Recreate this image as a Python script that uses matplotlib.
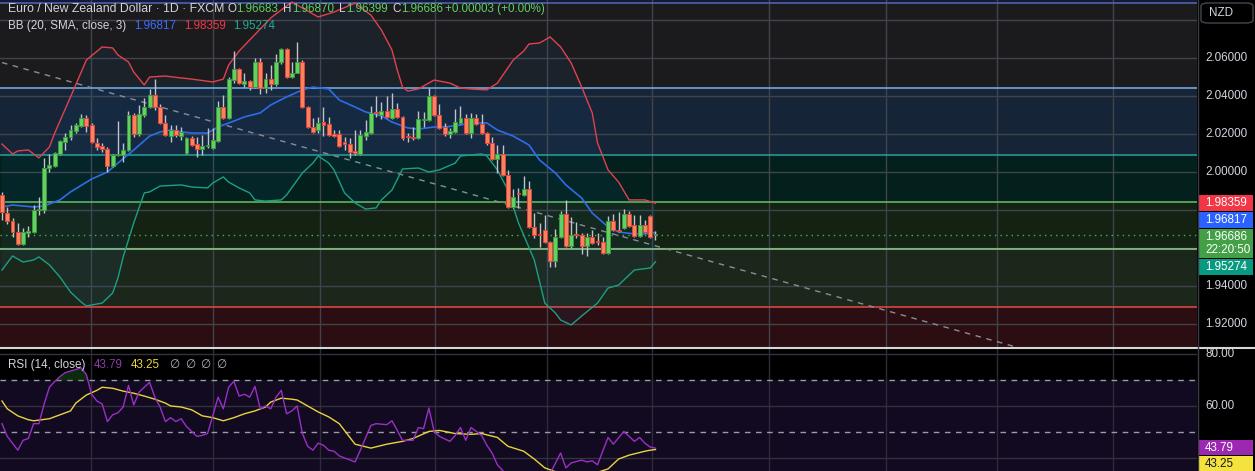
import matplotlib
matplotlib.use('Agg')
import matplotlib.pyplot as plt
import numpy as np
from matplotlib.patches import Rectangle, FancyBboxPatch
from matplotlib.lines import Line2D

plt.rcParams['font.family'] = ['Liberation Sans', 'DejaVu Sans']

# ---------------- data ----------------
opens = [
    1.9879, 1.9784, 1.9742, 1.9684, 1.9621, 1.9679, 1.9684, 1.9800, 1.9800, 2.0021,
    2.0032, 2.0095, 2.0158, 2.0184, 2.0216, 2.0242, 2.0284, 2.0247, 2.0153, 2.0137,
    2.0121, 2.0032, 2.0089, 2.0089, 2.0116, 2.0300, 2.0200, 2.0300, 2.0342, 2.0405,
    2.0342, 2.0258, 2.0189, 2.0221, 2.0189, 2.0100, 2.0179, 2.0147, 2.0121, 2.0137,
    2.0126, 2.0163, 2.0342, 2.0284, 2.0484, 2.0542, 2.0463, 2.0479, 2.0447, 2.0579,
    2.0442, 2.0489, 2.0463, 2.0579, 2.0647, 2.0500, 2.0521, 2.0579, 2.0342, 2.0237,
    2.0221, 2.0263, 2.0253, 2.0195, 2.0200, 2.0153, 2.0147, 2.0111, 2.0095, 2.0189,
    2.0205, 2.0311, 2.0300, 2.0321, 2.0284, 2.0332, 2.0290, 2.0184, 2.0179, 2.0179,
    2.0274, 2.0274, 2.0400, 2.0300, 2.0237, 2.0200, 2.0211, 2.0258, 2.0284, 2.0205,
    2.0284, 2.0253, 2.0205, 2.0153, 2.0068, 2.0095, 1.9984, 1.9816, 1.9884, 1.9879,
    1.9910, 1.9711, 1.9668, 1.9695, 1.9632, 1.9532, 1.9658, 1.9779, 1.9611, 1.9668,
    1.9668, 1.9611, 1.9658, 1.9632, 1.9632, 1.9574, 1.9742, 1.9689, 1.9705, 1.9779,
    1.9721, 1.9663, 1.9721, 1.9768, 1.96683]
highs = [
    1.9895, 1.9816, 1.9758, 1.9732, 1.9705, 1.9716, 1.9826, 1.9868, 2.0074, 2.0095,
    2.0105, 2.0168, 2.0205, 2.0247, 2.0258, 2.0305, 2.0300, 2.0258, 2.0179, 2.0153,
    2.0132, 2.0095, 2.0268, 2.0153, 2.0321, 2.0311, 2.0353, 2.0389, 2.0437, 2.0489,
    2.0358, 2.0300, 2.0247, 2.0247, 2.0237, 2.0184, 2.0189, 2.0184, 2.0195, 2.0232,
    2.0232, 2.0374, 2.0405, 2.0500, 2.0637, 2.0547, 2.0521, 2.0484, 2.0600, 2.0600,
    2.0521, 2.0563, 2.0621, 2.0653, 2.0653, 2.0579, 2.0684, 2.0589, 2.0347, 2.0284,
    2.0290, 2.0342, 2.0290, 2.0221, 2.0221, 2.0184, 2.0179, 2.0221, 2.0221, 2.0274,
    2.0347, 2.0400, 2.0368, 2.0400, 2.0416, 2.0363, 2.0295, 2.0205, 2.0237, 2.0321,
    2.0316, 2.0442, 2.0405, 2.0358, 2.0258, 2.0232, 2.0332, 2.0347, 2.0305, 2.0311,
    2.0305, 2.0305, 2.0211, 2.0184, 2.0142, 2.0142, 2.0011, 1.9910, 1.9916, 1.9979,
    1.9953, 1.9784, 1.9732, 1.9774, 1.9637, 1.9700, 1.9795, 1.9853, 1.9763, 1.9737,
    1.9679, 1.9679, 1.9695, 1.9679, 1.9658, 1.9768, 1.9779, 1.9790, 1.9805, 1.9795,
    1.9774, 1.9774, 1.9747, 1.9774, 1.96870]
lows = [
    1.9747, 1.9726, 1.9658, 1.9616, 1.9616, 1.9658, 1.9679, 1.9774, 1.9784, 2.0000,
    2.0026, 2.0089, 2.0116, 2.0168, 2.0205, 2.0237, 2.0211, 2.0153, 2.0116, 2.0105,
    2.0000, 2.0026, 2.0084, 2.0053, 2.0111, 2.0184, 2.0189, 2.0290, 2.0337, 2.0326,
    2.0253, 2.0189, 2.0158, 2.0184, 2.0168, 2.0095, 2.0137, 2.0079, 2.0089, 2.0126,
    2.0121, 2.0158, 2.0279, 2.0279, 2.0468, 2.0463, 2.0447, 2.0431, 2.0442, 2.0411,
    2.0416, 2.0431, 2.0453, 2.0568, 2.0495, 2.0495, 2.0521, 2.0337, 2.0232, 2.0205,
    2.0205, 2.0189, 2.0189, 2.0184, 2.0132, 2.0116, 2.0074, 2.0089, 2.0089, 2.0168,
    2.0200, 2.0290, 2.0279, 2.0284, 2.0279, 2.0284, 2.0168, 2.0158, 2.0168, 2.0174,
    2.0237, 2.0268, 2.0295, 2.0226, 2.0189, 2.0179, 2.0205, 2.0253, 2.0200, 2.0179,
    2.0247, 2.0200, 2.0142, 2.0063, 1.9995, 1.9979, 1.9811, 1.9811, 1.9811, 1.9874,
    1.9705, 1.9653, 1.9605, 1.9626, 1.9500, 1.9500, 1.9653, 1.9605, 1.9600, 1.9653,
    1.9568, 1.9558, 1.9621, 1.9616, 1.9568, 1.9568, 1.9689, 1.9684, 1.9700, 1.9711,
    1.9658, 1.9658, 1.9679, 1.9653, 1.96399]
closes = [
    1.9790, 1.9742, 1.9684, 1.9621, 1.9684, 1.9689, 1.9800, 1.9805, 2.0021, 2.0037,
    2.0100, 2.0163, 2.0184, 2.0221, 2.0247, 2.0284, 2.0242, 2.0158, 2.0132, 2.0121,
    2.0032, 2.0089, 2.0095, 2.0116, 2.0300, 2.0200, 2.0305, 2.0342, 2.0405, 2.0342,
    2.0258, 2.0195, 2.0221, 2.0195, 2.0211, 2.0179, 2.0142, 2.0121, 2.0137, 2.0140,
    2.0168, 2.0342, 2.0284, 2.0489, 2.0542, 2.0468, 2.0479, 2.0447, 2.0579, 2.0442,
    2.0489, 2.0463, 2.0579, 2.0647, 2.0500, 2.0521, 2.0579, 2.0342, 2.0237, 2.0211,
    2.0258, 2.0247, 2.0195, 2.0192, 2.0137, 2.0150, 2.0105, 2.0100, 2.0195, 2.0211,
    2.0311, 2.0308, 2.0321, 2.0290, 2.0332, 2.0290, 2.0179, 2.0182, 2.0177, 2.0279,
    2.0276, 2.0400, 2.0300, 2.0232, 2.0200, 2.0216, 2.0263, 2.0284, 2.0205, 2.0284,
    2.0253, 2.0205, 2.0153, 2.0068, 2.0095, 1.9984, 1.9816, 1.9868, 1.9882, 1.9910,
    1.9711, 1.9668, 1.9666, 1.9632, 1.9532, 1.9658, 1.9779, 1.9611, 1.9668, 1.9666,
    1.9611, 1.9658, 1.9626, 1.9630, 1.9574, 1.9742, 1.9695, 1.9687, 1.9779, 1.9716,
    1.9663, 1.9721, 1.9684, 1.9658, 1.96686]

bb_upper_idx = [0, 2, 3, 5, 7, 9, 10, 13, 16, 19, 21, 22, 24, 25, 27, 28, 31, 34, 36, 40,
                42, 43, 45, 47, 51, 55, 57, 60, 63, 67, 70, 72, 74, 75, 76, 77, 79, 82, 85, 87,
                89, 92, 94, 97, 99, 100, 102, 104, 106, 108, 110, 112, 113, 115, 117, 119, 122, 124]
bb_upper = [2.0147, 2.0095, 2.0111, 2.0116, 2.0074, 2.0132, 2.0205, 2.0395, 2.0589, 2.0658,
            2.0653, 2.0616, 2.0579, 2.0526, 2.0458, 2.0500, 2.0505, 2.0495, 2.0489, 2.0474,
            2.0489, 2.0563, 2.0637, 2.0695, 2.0811, 2.0895, 2.0863, 2.0816, 2.0842, 2.0889,
            2.0826, 2.0747, 2.0642, 2.0537, 2.0447, 2.0426, 2.0437, 2.0484, 2.0468, 2.0442,
            2.0437, 2.0432, 2.0468, 2.0589, 2.0637, 2.0674, 2.0679, 2.0711, 2.0658, 2.0574,
            2.0447, 2.0311, 2.0153, 2.0011, 1.9947, 1.9853, 1.9853, 1.98359]
bb_mid_idx = [0, 2, 6, 8, 11, 13, 17, 20, 22, 25, 28, 30, 32, 34, 36, 39, 41, 44, 46, 49,
              51, 54, 57, 59, 62, 64, 67, 69, 72, 74, 77, 79, 82, 84, 87, 89, 92, 94, 97, 100,
              102, 105, 107, 110, 112, 115, 117, 120, 122, 124]
bb_mid = [1.9816, 1.9826, 1.9816, 1.9821, 1.9853, 1.9895, 1.9963, 2.0000, 2.0047, 2.0116,
          2.0189, 2.0211, 2.0221, 2.0211, 2.0205, 2.0205, 2.0237, 2.0268, 2.0290, 2.0311,
          2.0353, 2.0395, 2.0432, 2.0447, 2.0437, 2.0379, 2.0342, 2.0316, 2.0295, 2.0263,
          2.0232, 2.0226, 2.0237, 2.0237, 2.0247, 2.0258, 2.0258, 2.0221, 2.0189, 2.0142,
          2.0063, 1.9995, 1.9932, 1.9863, 1.9784, 1.9711, 1.9684, 1.9674, 1.9674, 1.96817]
bb_low_idx = [0, 2, 4, 6, 7, 9, 11, 13, 15, 16, 19, 21, 22, 23, 25, 27, 28, 30, 34, 36,
              39, 40, 42, 43, 45, 47, 48, 50, 53, 54, 57, 59, 60, 62, 63, 65, 67, 69, 71, 72,
              74, 76, 79, 81, 83, 86, 87, 91, 92, 94, 96, 98, 101, 103, 105, 106, 108, 110, 113, 115,
              117, 120, 123, 124]
bb_low = [1.9484, 1.9558, 1.9526, 1.9537, 1.9553, 1.9511, 1.9447, 1.9368, 1.9316, 1.9295,
          1.9310, 1.9363, 1.9442, 1.9553, 1.9732, 1.9890, 1.9895, 1.9926, 1.9932, 1.9921,
          1.9916, 1.9942, 1.9974, 1.9947, 1.9916, 1.9890, 1.9853, 1.9847, 1.9853, 1.9879,
          1.9995, 2.0047, 2.0084, 2.0047, 2.0011, 1.9890, 1.9837, 1.9805, 1.9811, 1.9853,
          1.9905, 2.0016, 2.0021, 2.0000, 2.0011, 2.0047, 2.0084, 2.0095, 2.0084, 2.0011,
          1.9905, 1.9732, 1.9537, 1.9310, 1.9258, 1.9221, 1.9195, 1.9242, 1.9310, 1.9389,
          1.9405, 1.9484, 1.9495, 1.95274]

rsi_idx = [0, 1, 3, 4, 5, 6, 7, 8, 9, 10, 11, 12, 14, 15, 16, 17, 18, 19, 20, 21,
           22, 23, 24, 25, 26, 27, 28, 29, 30, 31, 32, 33, 34, 35, 36, 37, 38, 39, 40, 41,
           42, 43, 44, 45, 46, 47, 48, 49, 50, 51, 52, 53, 54, 55, 56, 57, 58, 59, 60, 61,
           62, 63, 64, 65, 67, 68, 70, 71, 73, 74, 75, 76, 78, 79, 80, 81, 82, 83, 85, 86,
           87, 88, 89, 91, 92, 93, 94, 96, 98, 100, 102, 104, 106, 107, 108, 110, 111, 112, 113, 115,
           116, 118, 120, 121, 122, 123, 124]
rsi = [53.2, 48.3, 43.0, 46.8, 47.5, 53.2, 53.2, 60.8, 67.2, 69.4, 71.3, 72.8, 74.0, 74.7, 72.1, 64.5, 61.9, 60.8, 54.0, 56.6,
       57.4, 59.6, 67.9, 60.4, 65.3, 67.2, 69.1, 63.4, 59.6, 54.0, 55.5, 54.0, 55.1, 52.1, 50.2, 48.3, 48.7, 49.4, 56.2, 63.4,
       58.9, 67.2, 69.5, 63.8, 64.5, 63.4, 67.5, 58.9, 60.0, 58.9, 63.4, 66.0, 57.0, 58.1, 60.0, 49.4, 44.5, 43.0, 45.7, 44.9,
       43.0, 42.6, 40.8, 40.0, 38.5, 43.0, 52.5, 53.2, 52.8, 54.3, 50.6, 46.8, 46.8, 51.7, 51.3, 59.2, 50.2, 48.3, 46.4, 48.7,
       51.7, 46.8, 51.7, 48.7, 44.9, 41.9, 37.4, 33.0, 32.0, 30.0, 31.0, 34.0, 41.9, 36.2, 38.1, 39.2, 38.5, 38.9, 37.4, 47.9,
       45.3, 50.2, 46.4, 47.9, 45.7, 44.2, 43.79]
rsi_ma_idx = [0, 1, 3, 5, 6, 9, 11, 13, 14, 16, 18, 19, 21, 23, 25, 27, 29, 31, 32, 34,
              36, 38, 40, 42, 44, 46, 48, 50, 51, 53, 55, 56, 58, 60, 62, 64, 67, 70, 73, 76,
              78, 81, 83, 86, 89, 91, 94, 96, 99, 101, 103, 106, 109, 111, 113, 115, 117, 119, 122, 123, 124]
rsi_ma = [61.9, 58.9, 56.2, 54.7, 54.3, 55.1, 56.6, 58.1, 61.1, 64.2, 66.0, 67.2, 66.8, 65.7, 64.9, 63.8, 62.6, 61.1, 60.0, 59.6,
          58.5, 56.2, 55.5, 54.3, 55.5, 57.0, 58.1, 59.6, 61.5, 63.0, 62.6, 62.3, 60.0, 57.7, 55.8, 53.2, 45.3, 43.8, 45.3, 46.4,
          47.5, 50.2, 50.6, 49.4, 49.1, 49.4, 47.9, 44.5, 42.6, 39.6, 36.2, 34.0, 33.0, 33.5, 34.5, 35.8, 39.6, 41.1, 42.6, 43.0, 43.25]

level_prices = [2.0889, 2.0442, 2.0089, 1.9842, 1.9595, 1.9289]
price_ticks = [2.06, 2.04, 2.02, 2.00, 1.94, 1.92]
grid_prices = [1.92, 1.94, 1.96, 1.98, 2.00, 2.02, 2.04, 2.06, 2.08]
month_ticks = [16.9, 40.0, 60.3, 82.2, 103.4, 123.4, 145.5, 167.7, 188.8, 210.8]
trend_idx = [0, 200]
trend_price = [2.0576, 1.9020]
last_price = 1.96686
rsi_levels_dashed = [70, 50]
rsi_grid = [80, 60, 40]
rsi_tick_labels = [80, 60]
bb_last = (1.96817, 1.98359, 1.95274)
rsi_last = (43.79, 43.25)
title_text = 'Euro / New Zealand Dollar · 1D · FXCM'
change_text = '+0.00003 (+0.00%)'
countdown = '22:20:50'

# ---------------- layout ----------------
W, H = 1255, 471
fig = plt.figure(figsize=(W / 100, H / 100), dpi=100)
fig.patch.set_facecolor('#000000')


def fx(px):
    return px / W


def fy(py):
    return 1 - py / H


AX_R = 1197
MAIN_B = 347
RSI_T = 349
BAR_PX = 5.27
XLIM = (-2 / BAR_PX, (AX_R - 2) / BAR_PX)
YLIM = (1.90789, 2.09053)
RLIM = (35.0, 81.9)

ax = fig.add_axes([0, fy(MAIN_B), fx(AX_R), MAIN_B / H])
ar = fig.add_axes([0, 0, fx(AX_R), (H - RSI_T) / H])
for a in (ax, ar):
    a.set_xlim(*XLIM)
    a.set_facecolor('#000000')
    for s in a.spines.values():
        s.set_visible(False)
    a.set_xticks([])
    a.set_yticks([])
ax.set_ylim(*YLIM)
ar.set_ylim(*RLIM)

# zones
zone_colors = ['#121a3c', '#1b1b1e', '#152436', '#03201d', '#132212', '#1b271a', '#2c0d11']
edges = [YLIM[1] + 0.01] + level_prices + [YLIM[0] - 0.01]
for c, top, bot in zip(zone_colors, edges[:-1], edges[1:]):
    ax.axhspan(bot, top, color=c, lw=0, zorder=0)

# grid
for g in grid_prices:
    ax.axhline(g, color='#40434c', lw=1, zorder=1)
for m in month_ticks:
    ax.axvline(m, color='#40434c', lw=1, zorder=1)
    ar.axvline(m, color='#2e2a38', lw=1, zorder=1)

# levels
level_colors = ['#5666b0', '#7cb4ea', '#2aa198', '#68c068', '#92d28c', '#e84848']
for p, c in zip(level_prices, level_colors):
    ax.axhline(p, color=c, lw=1.1, zorder=2)

# trend line
ax.plot(trend_idx, trend_price, color='#8a8d96', lw=1, ls=(0, (4, 4)), zorder=2)

# bollinger fill + lines
poly_x = np.concatenate([bb_upper_idx, bb_low_idx[::-1]])
poly_y = np.concatenate([bb_upper, bb_low[::-1]])
ax.fill(poly_x, poly_y, color='#2196f3', alpha=0.06, lw=0, zorder=2)
ax.plot(bb_upper_idx, bb_upper, color='#e0424e', lw=1, zorder=3)
ax.plot(bb_mid_idx, bb_mid, color='#2f6ce8', lw=1.2, zorder=3)
ax.plot(bb_low_idx, bb_low, color='#1f9e84', lw=1, zorder=3)

# current price dotted
ax.axhline(last_price, color='#4caf50', lw=1, ls=(0, (1, 3)), zorder=3)

# candles
o = np.array(opens); h = np.array(highs); l = np.array(lows); c = np.array(closes)
x = np.arange(len(o))
up = c >= o
ax.vlines(x, l, h, color='#c0c3cb', lw=1, zorder=4)
body_lo = np.minimum(o, c)
body_h = np.maximum(np.abs(c - o), 0.0006)
ax.bar(x[up], body_h[up], bottom=body_lo[up], width=0.74, color='#62d162',
       edgecolor='#3c9a3c', lw=0.7, zorder=5)
ax.bar(x[~up], body_h[~up], bottom=body_lo[~up], width=0.74, color='#f7845f',
       edgecolor='#e5433b', lw=0.7, zorder=5)

# ---------------- RSI pane ----------------
ar.axhspan(30, 70, color='#120a21', lw=0, zorder=0)
for g in rsi_grid:
    ar.axhline(g, color='#34303e', lw=1, zorder=1)
for d in rsi_levels_dashed:
    ar.axhline(d, color='#9a9da6', lw=1, ls=(0, (4, 4)), zorder=2)
rx = np.array(rsi_idx, dtype=float); rv = np.array(rsi)
ar.fill_between(rx, rv, 70, where=rv > 70, interpolate=True, color='#1b5e20', alpha=0.45, lw=0, zorder=2)
ar.plot(rsi_ma_idx, rsi_ma, color='#e8d43c', lw=1, zorder=3)
ar.plot(rsi_idx, rsi, color='#9b2fc6', lw=1, zorder=4)

# separators
fig.add_artist(Line2D([0, 1], [fy(348), fy(348)], transform=fig.transFigure, color='#d6d6d6', lw=1.5))
fig.add_artist(Line2D([fx(AX_R + 0.5), fx(AX_R + 0.5)], [0, 1], transform=fig.transFigure, color='#3a3d46', lw=1))

# ---------------- axis labels ----------------
TXT = '#d1d4dc'
FS = 8.4


def p2py(p):
    return (YLIM[1] - p) / (YLIM[1] - YLIM[0]) * MAIN_B


def r2py(v):
    return RSI_T + (RLIM[1] - v) / (RLIM[1] - RLIM[0]) * (H - RSI_T)


for t in price_ticks:
    fig.text(fx(1205), fy(p2py(t)), f'{t:.5f}', color=TXT, fontsize=FS, va='center', ha='left')
for t in rsi_tick_labels:
    fig.text(fx(1205), fy(r2py(t)), f'{t:.2f}', color=TXT, fontsize=FS, va='center', ha='left')

# NZD box
fig.add_artist(FancyBboxPatch((fx(1201), fy(23)), fx(1253) - fx(1201), 20 / H,
                              boxstyle='round,pad=0,rounding_size=0.006', transform=fig.transFigure,
                              fc='#000000', ec='#434651', lw=1))
fig.text(fx(1209), fy(12.5), 'NZD', color=TXT, fontsize=FS, va='center', ha='left')


def tag(top, bottom, color):
    fig.add_artist(Rectangle((fx(1198), fy(bottom)), fx(1253) - fx(1198), (bottom - top) / H,
                             transform=fig.transFigure, fc=color, ec='none'))


mid_bb, up_bb, lo_bb = bb_last
red_c = p2py(up_bb)
tag(red_c - 8, red_c + 8, '#f23645')
fig.text(fx(1205), fy(red_c), f'{up_bb:.5f}', color='white', fontsize=FS, va='center')
blue_c = red_c + 16.5
tag(blue_c - 8, blue_c + 8, '#2962ff')
fig.text(fx(1205), fy(blue_c), f'{mid_bb:.5f}', color='white', fontsize=FS, va='center')
g_top = blue_c + 9
tag(g_top, g_top + 29, '#43a047')
fig.text(fx(1205), fy(g_top + 8), f'{last_price:.5f}', color='white', fontsize=FS, va='center')
fig.text(fx(1205), fy(g_top + 21.5), countdown, color='white', fontsize=FS, va='center')
teal_c = g_top + 30 + 8
tag(teal_c - 8, teal_c + 8, '#089981')
fig.text(fx(1205), fy(teal_c), f'{lo_bb:.5f}', color='white', fontsize=FS, va='center')

pc = r2py(rsi_last[0])
tag(pc - 8, pc + 7, '#9c27b0')
fig.text(fx(1205), fy(pc), f'{rsi_last[0]:.2f}', color='white', fontsize=FS, va='center')
yc = pc + 16
tag(yc - 8, yc + 8, '#f5e23c')
fig.text(fx(1205), fy(yc), f'{rsi_last[1]:.2f}', color='#131722', fontsize=FS, va='center')

# ---------------- header texts ----------------
GREEN = '#5fce62'
renderer = fig.canvas.get_renderer()
t0 = fig.text(fx(8), fy(9), title_text, color=TXT, fontsize=8.8, va='center')


def pair(letter, value, px, py):
    t = fig.text(fx(px), fy(py), letter, color=TXT, fontsize=FS, va='center')
    x1 = t.get_window_extent(renderer).x1
    fig.text(x1 / W + fx(0.5), fy(py), value, color=GREEN, fontsize=FS, va='center')


pair('O', f'{opens[-1]:.5f}', 227, 9)
pair('H', f'{highs[-1]:.5f}', 283, 9)
pair('L', f'{lows[-1]:.5f}', 339, 9)
pair('C', f'{closes[-1]:.5f}', 392, 9)
fig.text(fx(445), fy(9), change_text, color=GREEN, fontsize=FS, va='center')

fig.text(fx(8), fy(26), 'BB (20, SMA, close, 3)', color=TXT, fontsize=FS, va='center')
fig.text(fx(134), fy(26), f'{mid_bb:.5f}', color='#3d6dff', fontsize=FS, va='center')
fig.text(fx(184), fy(26), f'{up_bb:.5f}', color='#f23645', fontsize=FS, va='center')
fig.text(fx(233), fy(26), f'{lo_bb:.5f}', color='#22ab94', fontsize=FS, va='center')

fig.text(fx(8), fy(365), 'RSI (14, close)', color=TXT, fontsize=FS, va='center')
fig.text(fx(94), fy(365), f'{rsi_last[0]:.2f}', color='#8e3aa8', fontsize=FS, va='center')
fig.text(fx(131), fy(365), f'{rsi_last[1]:.2f}', color='#e8d43c', fontsize=FS, va='center')
for px in (169, 185, 200, 216):
    fig.text(fx(px), fy(365), '∅', color='#b2b5be', fontsize=FS, va='center', family=['DejaVu Sans'])

fig.savefig('out.png', dpi=100, facecolor=fig.get_facecolor())
